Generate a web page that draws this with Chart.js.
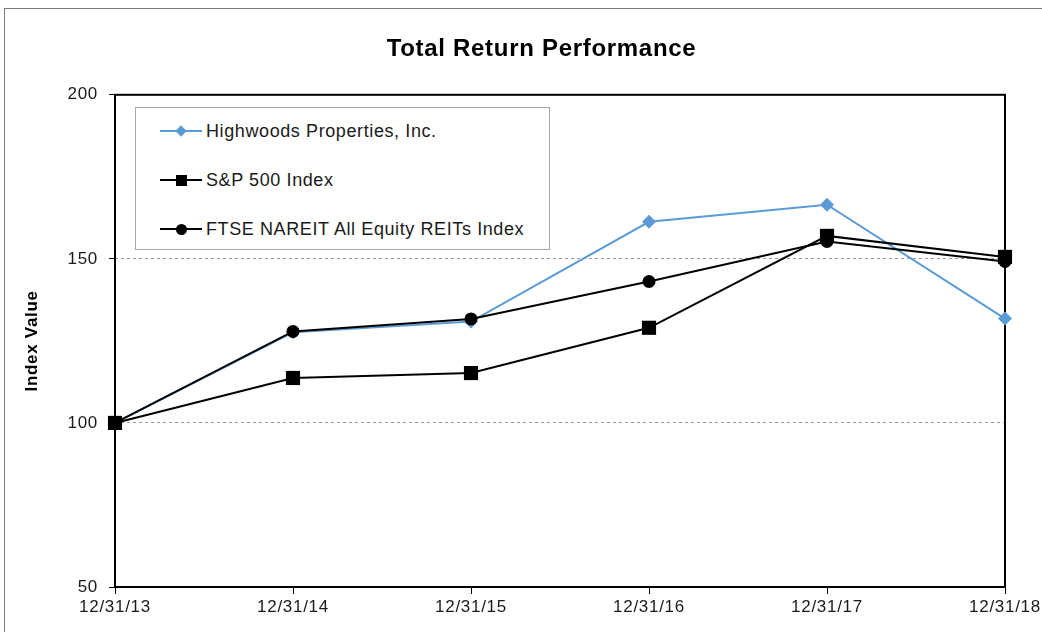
<!DOCTYPE html>
<html>
<head>
<meta charset="utf-8">
<script src="https://cdn.jsdelivr.net/npm/chart.js@4/dist/chart.umd.min.js"></script>
<style>
  html, body { margin: 0; padding: 0; background: #fff; overflow: hidden; }
  #wrap { position: relative; width: 1042px; height: 632px; overflow: hidden; }
  #frame { position: absolute; left: 4px; top: 8px; width: 1200px; height: 800px; border: 1px solid #7a7a7a; box-sizing: border-box; }
  #box { position: absolute; left: 0; top: 0; width: 1083px; height: 632px; }
  #legend { position: absolute; left: 135px; top: 107px; width: 415px; height: 143px; border: 1px solid #a6a6a6; box-sizing: border-box; background: #fff; font-family: "Liberation Sans", Arial, sans-serif; font-size: 18px; letter-spacing: 0.6px; color: #1a1a1a; }
  .item { position: absolute; left: 24px; height: 20px; }
  .item .ln { position: absolute; left: 0; top: 9px; width: 42px; height: 2px; }
  .item .mk { position: absolute; }
  .item .tx { position: absolute; left: 46px; top: 0; white-space: nowrap; line-height: 20px; }
</style>
</head>
<body>
<div id="wrap">
  <div id="frame"></div>
  <div id="box"><canvas id="chart"></canvas></div>
  <div id="legend"></div>
</div>
<script>
// 年末日付（カテゴリ）
const dates = ["12/31/13", "12/31/14", "12/31/15", "12/31/16", "12/31/17", "12/31/18"];

// 各系列の指数値（ピクチャから読み取り）
const highwoods = [100, 127.6, 130.9, 161.3, 166.5, 131.8];
const sp500 = [100, 113.7, 115.2, 129.0, 157.0, 150.6];
const ftse = [100, 127.9, 131.7, 143.1, 155.3, 149.2];

const seriesNames = [
  "Highwoods Properties, Inc.",
  "S&P 500 Index",
  "FTSE NAREIT All Equity REITs Index",
];

// y軸の目盛り
const yTicks = [50, 100, 150, 200];

const BLUE = "#5b9bd5";
const FONT = "'Liberation Sans', Arial, sans-serif";

// プロット枠（上・右も含めて四角で囲む）＋ 文字間隔
const framePlugin = {
  id: "frame",
  afterLayout(chart) {
    // タイトルはキャンバス全幅の中央に置く
    if (chart.titleBlock) {
      chart.titleBlock.left = 0;
      chart.titleBlock.right = chart.width;
    }
  },
  beforeDraw(chart) {
    chart.ctx.letterSpacing = "0.7px";
  },
  beforeDatasetsDraw(chart) {
    const { ctx, chartArea: a } = chart;
    ctx.save();
    ctx.strokeStyle = "#000";
    ctx.lineWidth = 2;
    ctx.strokeRect(a.left, a.top, a.right - a.left, a.bottom - a.top);
    ctx.restore();
  },
};

const chart = new Chart(document.getElementById("chart"), {
  type: "line",
  data: {
    labels: dates,
    datasets: [
      {
        label: seriesNames[0],
        data: highwoods,
        borderColor: BLUE,
        backgroundColor: BLUE,
        borderWidth: 2,
        pointStyle: "rectRot",
        pointRadius: 7,
        pointBorderWidth: 0,
        order: 3,
        clip: false,
      },
      {
        label: seriesNames[1],
        data: sp500,
        borderColor: "#000",
        backgroundColor: "#000",
        borderWidth: 2,
        pointStyle: "rect",
        pointRadius: 10,
        pointBorderWidth: 0,
        order: 2,
        clip: false,
      },
      {
        label: seriesNames[2],
        data: ftse,
        borderColor: "#000",
        backgroundColor: "#000",
        borderWidth: 2,
        pointStyle: "circle",
        pointRadius: 6.5,
        pointBorderWidth: 0,
        order: 1,
        clip: false,
      },
    ],
  },
  options: {
    responsive: true,
    maintainAspectRatio: false,
    animation: false,
    layout: { padding: { left: 0, right: 78, top: 0, bottom: 0 } },
    plugins: {
      legend: { display: false },
      tooltip: { enabled: false },
      title: {
        display: true,
        text: "Total Return Performance",
        color: "#000",
        font: { family: FONT, size: 24, weight: "bold" },
        padding: { top: 35, bottom: 31 },
      },
    },
    scales: {
      x: {
        offset: false,
        border: { display: false },
        grid: { drawOnChartArea: false, drawTicks: true, tickLength: 7, tickColor: "#000", tickWidth: 1 },
        ticks: {
          color: "#1a1a1a",
          font: { family: FONT, size: 17 },
          padding: 3,
          maxRotation: 0,
          autoSkip: false,
        },
        afterFit(scale) {
          scale.height = 45;
        },
      },
      y: {
        min: 50,
        max: 200,
        border: { display: false, dash: [3, 3] },
        afterBuildTicks(scale) {
          scale.ticks = yTicks.map((v) => ({ value: v }));
        },
        grid: {
          color: "#9a9a9a",
          lineWidth: 1,
          tickLength: 6,
          tickColor: "#000",
          tickWidth: 1,
          tickBorderDash: [],
        },
        ticks: {
          color: "#1a1a1a",
          font: { family: FONT, size: 17 },
          padding: 11,
        },
        title: {
          display: true,
          text: "Index Value",
          color: "#000",
          font: { family: FONT, size: 17, weight: "bold" },
          padding: { top: 22, bottom: 0 },
        },
        afterFit(scale) {
          scale.width = 115;
        },
      },
    },
  },
  plugins: [framePlugin],
});

// 凡例（枠付き）をデータセットから作る
const legendEl = document.getElementById("legend");
const rowTops = [13, 62, 111];
chart.data.datasets.forEach((ds, i) => {
  const item = document.createElement("div");
  item.className = "item";
  item.style.top = rowTops[i] + "px";
  const ln = document.createElement("div");
  ln.className = "ln";
  ln.style.background = ds.borderColor;
  const mk = document.createElement("div");
  mk.className = "mk";
  mk.style.background = ds.backgroundColor;
  if (ds.pointStyle === "rectRot") {
    Object.assign(mk.style, { width: "8px", height: "8px", left: "17px", top: "6px", transform: "rotate(45deg)" });
  } else if (ds.pointStyle === "rect") {
    Object.assign(mk.style, { width: "11px", height: "11px", left: "16px", top: "4.5px" });
  } else {
    Object.assign(mk.style, { width: "11px", height: "11px", left: "16px", top: "4.5px", borderRadius: "50%" });
  }
  const tx = document.createElement("div");
  tx.className = "tx";
  tx.textContent = ds.label;
  item.appendChild(ln);
  item.appendChild(mk);
  item.appendChild(tx);
  legendEl.appendChild(item);
});
</script>
</body>
</html>
